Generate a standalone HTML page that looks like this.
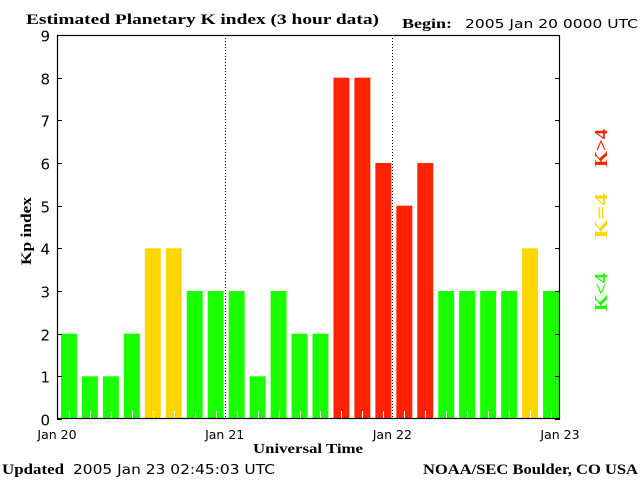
<!DOCTYPE html>
<html><head><meta charset="utf-8"><style>
body{margin:0;background:#fff;}
svg{display:block;}
.s{font-family:"Liberation Serif",serif;font-weight:bold;}
.n{font-family:"DejaVu Sans","Liberation Sans",sans-serif;}
</style></head><body>
<svg id="c" width="640" height="480">
<text class="s" x="26" y="24" font-size="15" textLength="353" lengthAdjust="spacingAndGlyphs">Estimated Planetary K index (3 hour data)</text>
<text class="s" x="402" y="28" font-size="14" textLength="50" lengthAdjust="spacingAndGlyphs">Begin:</text>
<text class="n" x="465" y="28" font-size="12.5" textLength="173" lengthAdjust="spacingAndGlyphs">2005 Jan 20 0000 UTC</text>
<text class="s" x="31" y="231" font-size="15" transform="rotate(-90 31 231)" text-anchor="middle" textLength="68" lengthAdjust="spacingAndGlyphs">Kp index</text>
<text class="s" x="253" y="453" font-size="14" textLength="110" lengthAdjust="spacingAndGlyphs">Universal Time</text>
<text class="s" x="2" y="474" font-size="15" textLength="62" lengthAdjust="spacingAndGlyphs">Updated</text>
<text class="n" x="73" y="474" font-size="13" textLength="202" lengthAdjust="spacingAndGlyphs">2005 Jan 23 02:45:03 UTC</text>
<text class="s" x="423" y="474" font-size="15" textLength="215" lengthAdjust="spacingAndGlyphs">NOAA/SEC Boulder, CO USA</text>
<g id="bars"></g>
<g id="axes"></g>
<text class="s" x="607" y="148" font-size="18" fill="#ff2200" text-anchor="middle" transform="rotate(-90 607 148)" textLength="38" lengthAdjust="spacingAndGlyphs">K&gt;4</text>
<text class="s" x="607" y="216" font-size="18" fill="#ffd700" text-anchor="middle" transform="rotate(-90 607 216)" textLength="45" lengthAdjust="spacingAndGlyphs">K=4</text>
<text class="s" x="607" y="292" font-size="18" fill="#1aff00" text-anchor="middle" transform="rotate(-90 607 292)" textLength="38" lengthAdjust="spacingAndGlyphs">K&lt;4</text>
</svg>
<script>
const kpValues=[2,1,1,2,4,4,3,3,3,1,3,2,2,8,8,6,5,6,3,3,3,3,4,3];
const yTicks=[0,1,2,3,4,5,6,7,8,9];
const dayLabels=["Jan 20","Jan 21","Jan 22","Jan 23"];
const NS="http://www.w3.org/2000/svg";
const L=57,R=560,T=35,B=419;
const n=kpValues.length;
const xs=i=>L+(R-L)*i/n;
const ys=v=>B-(B-T)*v/9;
function mk(t,a,p){const e=document.createElementNS(NS,t);for(const k in a)e.setAttribute(k,a[k]);p.appendChild(e);return e;}
const bars=document.getElementById('bars'),ax=document.getElementById('axes');
const bw=(R-L)/n;
kpValues.forEach((v,i)=>{
  const col=v>4?'#ff2200':(v==4?'#ffd700':'#1aff00');
  const x0=xs(i)+4;
  const r=mk('rect',{x:x0,y:ys(v),width:bw-5,height:B-ys(v),fill:col},bars);
  
  
  const cx=Math.round(x0+(bw-5)/2)+0.5;
  mk('line',{x1:cx,x2:cx,y1:B-8,y2:B,stroke:'#fff','stroke-width':1},bars);
});
[1,2].forEach(d=>{const x=Math.round(xs(d*8))+0.5;
  const l=mk('line',{x1:x,x2:x,y1:T,y2:B,stroke:'#000','stroke-dasharray':'1,2'},ax);
  
  });
const fr=mk('rect',{x:L+0.5,y:T+0.5,width:R-L-1,height:B-T-1,fill:'none',stroke:'#000','stroke-width':1.2},ax);


yTicks.forEach(v=>{const y=Math.round(ys(v))+0.5;
  mk('line',{x1:L,x2:L+5,y1:y,y2:y,stroke:'#000'},ax);
  mk('line',{x1:R-5,x2:R,y1:y,y2:y,stroke:'#000'},ax);
  const t=mk('text',{x:50,y:y+6,'text-anchor':'end','font-size':15,class:'n'},ax);
  t.textContent=v;
  
  });
dayLabels.forEach((s,i)=>{const x=xs(i*8);
  const t=mk('text',{x:x,y:439,'text-anchor':'middle','font-size':12.5,class:'n'},ax);
  t.textContent=s;
  
  });
</script>
</body></html>
